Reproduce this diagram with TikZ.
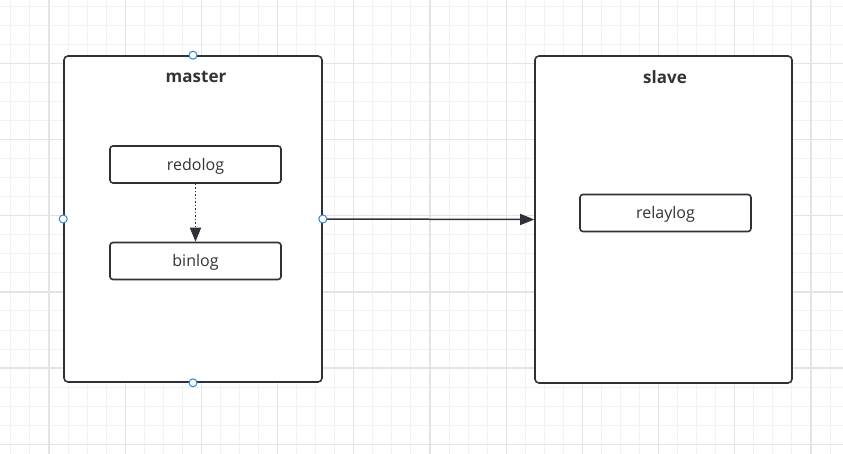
\documentclass[tikz,border=0pt]{standalone}
\usepackage{fontspec}
\setmainfont{Open Sans}
\usetikzlibrary{arrows.meta}
\definecolor{gridminor}{HTML}{F2F2F2}
\definecolor{gridmajor}{HTML}{E4E4E4}
\definecolor{stroke}{HTML}{2E3238}
\definecolor{txt}{HTML}{333333}
\definecolor{handle}{HTML}{2B86DA}
\tikzset{
  minorline/.style={draw=gridminor, line width=1pt},
  majorline/.style={draw=gridmajor, line width=1.3pt},
  container/.style={draw=stroke, fill=white, line width=1.6pt, rounded corners=4pt, inner sep=0pt},
  logbox/.style={draw=stroke, fill=white, line width=1.6pt, rounded corners=3pt, minimum width=171pt, minimum height=37pt, inner sep=0pt, text=txt, font=\fontsize{16}{19}\selectfont, text depth=1pt},
  titletext/.style={text=txt, font=\fontsize{17}{20}\selectfont\bfseries, inner sep=0pt},
  handlept/.style={circle, draw=handle, fill=white, line width=1pt, minimum size=8pt, inner sep=0pt},
  conn/.style={draw=stroke, line width=1.5pt, -{Triangle[length=14pt,width=11pt]}},
}
\begin{document}
\begin{tikzpicture}[x=1pt,y=-1pt]
\useasboundingbox (0,0) rectangle (843,454);
\fill[white] (0,0) rectangle (843,454);
% grid
\foreach \i in {0,...,43} {
  \pgfmathsetmacro\xx{10.9+19.05*\i}
  \draw[minorline] (\xx,0) -- (\xx,454);
}
\foreach \i in {0,...,23} {
  \pgfmathsetmacro\yy{6.15+19.05*\i}
  \draw[minorline] (0,\yy) -- (843,\yy);
}
\foreach \i in {0,...,10} {
  \pgfmathsetmacro\xx{49+76.2*\i}
  \draw[majorline] (\xx,0) -- (\xx,454);
}
\foreach \i in {0,...,5} {
  \pgfmathsetmacro\yy{63.3+76.2*\i}
  \draw[majorline] (0,\yy) -- (843,\yy);
}
% containers
\node[container, minimum width=258pt, minimum height=326pt] (master) at (193,219) {};
\node[container, minimum width=257pt, minimum height=327pt] (slave) at (663.5,219.5) {};
\node[titletext] (mastertitle) at (196,77) {master};
\node[titletext] (slavetitle) at (665,77) {slave};
% log boxes
\node[logbox] (redolog) at (195.5,164.5) {redolog};
\node[logbox] (binlog) at (195.5,261) {binlog};
\node[logbox] (relaylog) at (665.5,213) {relaylog};
% connectors
\draw[conn, dotted, line width=1.8pt] (redolog.south) -- (binlog.north);
\draw[conn] (master.east) -- (slave.west);
% handles
\node[handlept] (h1) at (master.north) {};
\node[handlept] (h2) at (master.west) {};
\node[handlept] (h3) at (master.east) {};
\node[handlept] (h4) at (master.south) {};
\end{tikzpicture}
\end{document}
